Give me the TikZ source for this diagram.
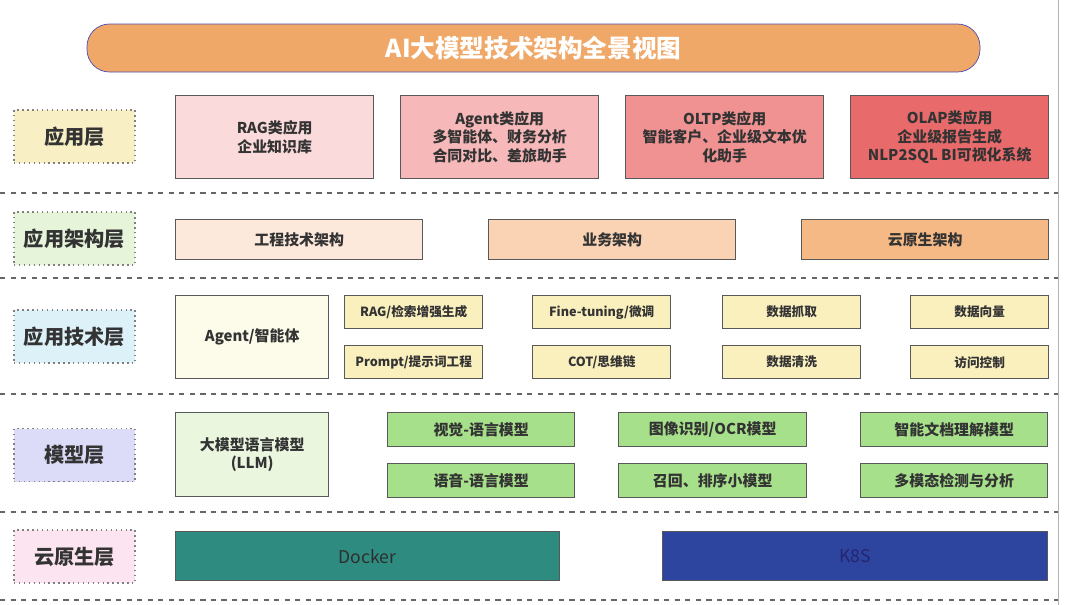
\documentclass[tikz,border=0pt]{standalone}
\usepackage{fontspec}
\setmainfont{Noto Sans CJK SC}
\usetikzlibrary{positioning}
\definecolor{titleorange}{HTML}{F0A868}
\definecolor{layyellow}{HTML}{F8F0C4}
\definecolor{laygreen}{HTML}{E6F5DA}
\definecolor{layblue}{HTML}{DDF2F8}
\definecolor{laypurple}{HTML}{DCDCF8}
\definecolor{laypink}{HTML}{FCE4F0}
\definecolor{appA}{HTML}{FADADB}
\definecolor{appB}{HTML}{F6B8B8}
\definecolor{appC}{HTML}{F09292}
\definecolor{appD}{HTML}{E86A6A}
\definecolor{archA}{HTML}{FDE9DC}
\definecolor{archB}{HTML}{FAD3B5}
\definecolor{archC}{HTML}{F5B985}
\definecolor{techbig}{HTML}{FDFBE9}
\definecolor{techsmall}{HTML}{FAF0BE}
\definecolor{modbig}{HTML}{EAF6DE}
\definecolor{modsmall}{HTML}{A6E08A}
\definecolor{dockerc}{HTML}{2E8B80}
\definecolor{k8sc}{HTML}{2E45A0}
\definecolor{txt}{HTML}{333333}
\tikzset{%
	layer/.style = {draw=gray, dotted, thick, minimum width=121*0.02cm, minimum height=53*0.02cm, font=\bfseries\fontsize{11.5}{13}\selectfont, text=txt},
	box/.style   = {draw=gray!70!black, thick, text=txt, align=center, font=\bfseries\fontsize{8.5}{10.5}\selectfont},
	sbox/.style  = {box, font=\bfseries\fontsize{7.2}{8.5}\selectfont},
	sep/.style   = {gray!80!black, dashed, thick},
}
% box from two corners
\newcommand{\boxat}[7]{\node[#1, fill=#2, minimum width=(#5-#3)*0.02cm, minimum height=(#6-#4)*0.02cm, anchor=north west] (#7) at (#3,#4) {};}
\begin{document}
\begin{tikzpicture}[x=0.02cm,y=-0.02cm]
	\useasboundingbox (0,0) rectangle (1080,605);
	
	% title
	\node[draw=gray!60!blue, fill=titleorange, rounded corners=0.45cm, minimum width=893*0.02cm, minimum height=48*0.02cm, text=white, font=\bfseries\fontsize{14}{16}\selectfont] (title) at (533.5,48) {AI大模型技术架构全景视图};
	\draw[gray!60] (1058,0) -- (1058,605);
	
	% separators
	\foreach \y in {193,278,394,512,600}
		\draw[sep] (0,\y) -- (1058,\y);
	
	% layers
	\node[layer, fill=layyellow] (appl)  at (74.5,136.5) {应用层};
	\node[layer, fill=laygreen]  (archl) at (74.5,238.5) {应用架构层};
	\node[layer, fill=layblue]   (techl) at (74.5,336.5) {应用技术层};
	\node[layer, fill=laypurple] (modl)  at (74.5,455)   {模型层};
	\node[layer, fill=laypink]   (cloudl) at (74.5,556.5) {云原生层};
	
	% application layer
	\boxat{box}{appA}{175}{95}{373}{178}{rag}
	\boxat{box}{appB}{400}{95}{598}{178}{agent}
	\boxat{box}{appC}{625}{95}{823}{178}{oltp}
	\boxat{box}{appD}{850}{95}{1048}{178}{olap}
	\node[box, draw=none] at (rag)   {RAG类应用\\企业知识库};
	\node[box, draw=none] at (agent) {Agent类应用\\多智能体、财务分析\\合同对比、差旅助手};
	\node[box, draw=none] at (oltp)  {OLTP类应用\\智能客户、企业级文本优\\化助手};
	\node[box, draw=none] at (olap)  {OLAP类应用\\企业级报告生成\\NLP2SQL BI可视化系统};
	
	% architecture layer
	\boxat{box}{archA}{175}{219}{422}{259}{eng}
	\boxat{box}{archB}{488}{219}{735}{259}{biz}
	\boxat{box}{archC}{801}{219}{1048}{259}{cna}
	\node[box, draw=none] at (eng) {工程技术架构};
	\node[box, draw=none] at (biz) {业务架构};
	\node[box, draw=none] at (cna) {云原生架构};
	
	% technology layer
	\boxat{box}{techbig}{175}{295}{328}{378}{agt}
	\node[box, draw=none] at (agt) {Agent/智能体};
	\foreach \xa/\xb/\ta/\tb [count=\i] in {344/482/RAG\slash 检索增强生成/Prompt\slash 提示词工程, 532/670/Fine-tuning\slash 微调/COT\slash 思维链, 722/860/数据抓取/数据清洗, 910/1048/数据向量/访问控制}{
		\boxat{sbox}{techsmall}{\xa}{295}{\xb}{328}{tu\i}
		\boxat{sbox}{techsmall}{\xa}{345}{\xb}{378}{td\i}
		\node[sbox, draw=none] at (tu\i) {\ta};
		\node[sbox, draw=none] at (td\i) {\tb};
	}
	
	% model layer
	\boxat{box}{modbig}{175}{412}{328}{496}{llm}
	\node[box, draw=none] at (llm) {大模型语言模型\\(LLM)};
	\foreach \xa/\xb/\ta/\tb [count=\i] in {387/574/视觉-语言模型/语音-语言模型, 618/806/图像识别\slash OCR模型/召回、排序小模型, 860/1047/智能文档理解模型/多模态检测与分析}{
		\boxat{box}{modsmall}{\xa}{412}{\xb}{446}{mu\i}
		\boxat{box}{modsmall}{\xa}{463}{\xb}{497}{md\i}
		\node[box, draw=none] at (mu\i) {\ta};
		\node[box, draw=none] at (md\i) {\tb};
	}
	
	% cloud native layer
	\boxat{box}{dockerc}{175}{531}{559}{580}{docker}
	\boxat{box}{k8sc}{662}{531}{1047}{580}{k8s}
	\node[box, draw=none, text=txt!90!black, font=\fontsize{10}{12}\selectfont] at (docker) {Docker};
	\node[box, draw=none, text=txt!70!blue, font=\fontsize{10}{12}\selectfont] at (k8s) {K8S};
	
\end{tikzpicture}
\end{document}
